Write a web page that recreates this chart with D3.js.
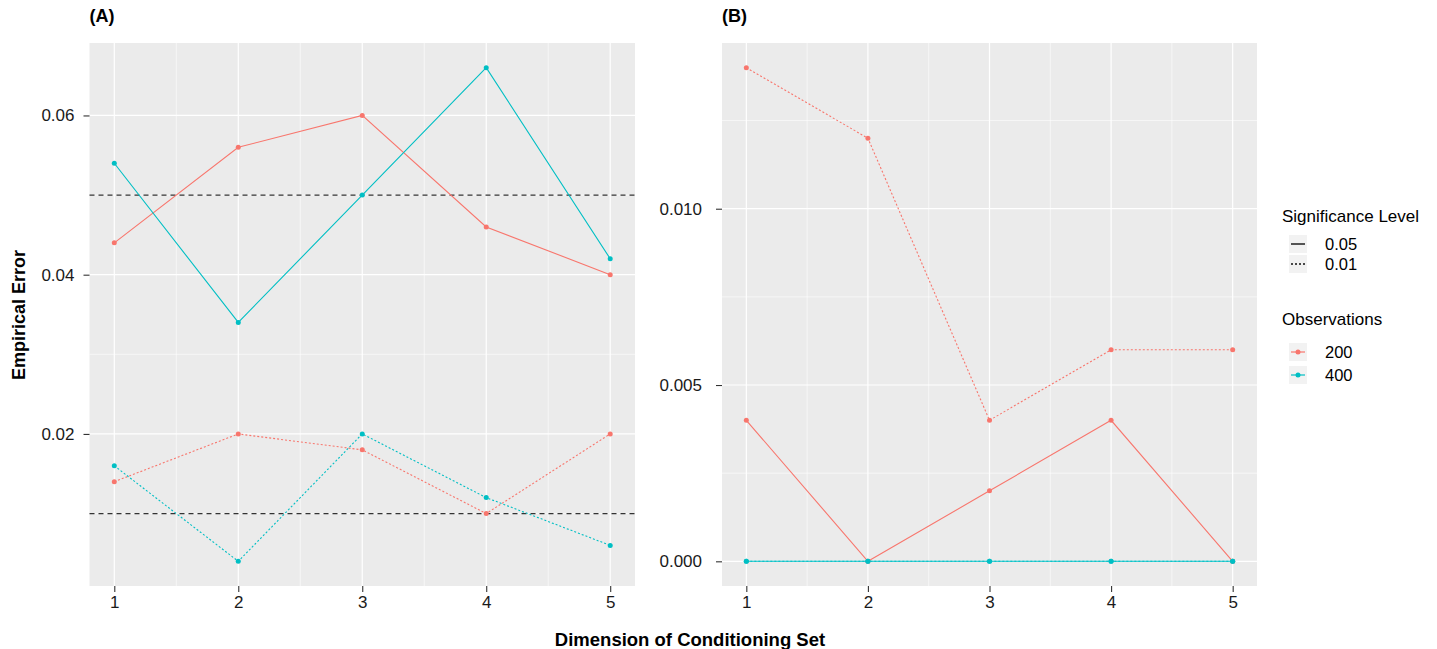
<!DOCTYPE html>
<html>
<head>
	<meta charset="utf-8">
	<title>Empirical Error</title>
	<script src="https://d3js.org/d3.v7.min.js"></script>
	<style>
		body { margin: 0; background: #fff; }
		text { font-family: "Liberation Sans", Arial, sans-serif; }
	</style>
</head>
<body>
	<script type="text/javascript">

		// data
		var dims = [1, 2, 3, 4, 5];
		var levels = ["0.05", "0.01"];
		var observations = ["200", "400"];

		var aRed05 = [0.044, 0.056, 0.060, 0.046, 0.040];
		var aTeal05 = [0.054, 0.034, 0.050, 0.066, 0.042];
		var aRed01 = [0.014, 0.020, 0.018, 0.010, 0.020];
		var aTeal01 = [0.016, 0.004, 0.020, 0.012, 0.006];
		var aRefLines = [0.05, 0.01];

		var bRed05 = [0.004, 0.000, 0.002, 0.004, 0.000];
		var bTeal05 = [0, 0, 0, 0, 0];
		var bRed01 = [0.014, 0.012, 0.004, 0.006, 0.006];
		var bTeal01 = [0, 0, 0, 0, 0];

		var aTicks = [0.02, 0.04, 0.06];
		var aMinor = [0.01, 0.03, 0.05];
		var bTicks = [0.000, 0.005, 0.010];
		var bMinor = [0.0025, 0.0075, 0.0125];

		var colors = { "200": "#F8766D", "400": "#00BFC4" };
		var dashes = { "0.05": null, "0.01": "2,2" };

		var width = 1437, height = 649;
		var top0 = 43, bot0 = 586;

		var svg = d3.select("body").append("svg")
			.attr("width", width)
			.attr("height", height);

		function panel(opts) {
			var x = d3.scaleLinear().domain([0.8, 5.2]).range([opts.x0, opts.x1]);
			var y = d3.scaleLinear().domain(opts.ydom).range([bot0, top0]);
			var g = svg.append("g");

			g.append("rect")
				.attr("x", opts.x0).attr("y", top0)
				.attr("width", opts.x1 - opts.x0).attr("height", bot0 - top0)
				.attr("fill", "#EBEBEB");

			// minor grid
			g.selectAll(".ymin").data(opts.minor).enter().append("line")
				.attr("x1", opts.x0).attr("x2", opts.x1)
				.attr("y1", function (d) { return y(d); }).attr("y2", function (d) { return y(d); })
				.attr("stroke", "#fff").attr("stroke-width", 0.6);
			g.selectAll(".xmin").data([1.5, 2.5, 3.5, 4.5]).enter().append("line")
				.attr("y1", top0).attr("y2", bot0)
				.attr("x1", function (d) { return x(d); }).attr("x2", function (d) { return x(d); })
				.attr("stroke", "#fff").attr("stroke-width", 0.6);
			// major grid
			g.selectAll(".ymaj").data(opts.ticks).enter().append("line")
				.attr("x1", opts.x0).attr("x2", opts.x1)
				.attr("y1", function (d) { return y(d); }).attr("y2", function (d) { return y(d); })
				.attr("stroke", "#fff").attr("stroke-width", 1.2);
			g.selectAll(".xmaj").data(dims).enter().append("line")
				.attr("y1", top0).attr("y2", bot0)
				.attr("x1", function (d) { return x(d); }).attr("x2", function (d) { return x(d); })
				.attr("stroke", "#fff").attr("stroke-width", 1.2);

			// reference lines
			g.selectAll(".ref").data(opts.refs).enter().append("line")
				.attr("x1", opts.x0).attr("x2", opts.x1)
				.attr("y1", function (d) { return y(d); }).attr("y2", function (d) { return y(d); })
				.attr("stroke", "#333").attr("stroke-width", 1.2)
				.attr("stroke-dasharray", "5,4");

			var line = d3.line()
				.x(function (d, i) { return x(dims[i]); })
				.y(function (d) { return y(d); });

			opts.series.forEach(function (s) {
				g.append("path")
					.datum(s.values)
					.attr("d", line)
					.attr("fill", "none")
					.attr("stroke", colors[s.obs])
					.attr("stroke-width", 1.1)
					.attr("stroke-dasharray", dashes[s.level]);
				g.selectAll(null).data(s.values).enter().append("circle")
					.attr("cx", function (d, i) { return x(dims[i]); })
					.attr("cy", function (d) { return y(d); })
					.attr("r", 2.5)
					.attr("fill", colors[s.obs]);
			});

			// axes
			var yAxis = d3.axisLeft(y).tickValues(opts.ticks).tickFormat(d3.format(opts.fmt))
				.tickSize(6).tickPadding(opts.ypad);
			var ga = svg.append("g").attr("transform", "translate(" + opts.x0 + ",0)").call(yAxis);
			var xAxis = d3.axisBottom(x).tickValues(dims).tickFormat(d3.format("d"))
				.tickSize(6).tickPadding(4);
			var gb = svg.append("g").attr("transform", "translate(0," + bot0 + ")").call(xAxis);
			[ga, gb].forEach(function (a) {
				a.select(".domain").remove();
				a.selectAll("line").attr("stroke", "#333").attr("stroke-width", 1.1);
				a.selectAll("text").attr("font-size", 17).attr("fill", "#1a1a1a")
					.style("font-family", "'Liberation Sans', Arial, sans-serif");
			});

			svg.append("text")
				.attr("x", opts.x0).attr("y", 22)
				.attr("font-size", 18).attr("font-weight", "bold")
				.text(opts.label);
		}

		panel({
			x0: 89.5, x1: 635, ydom: [0.0009, 0.0691], ypad: 9,
			ticks: aTicks, minor: aMinor, fmt: ".2f", refs: aRefLines, label: "(A)",
			series: [
				{ obs: "200", level: "0.05", values: aRed05 },
				{ obs: "400", level: "0.05", values: aTeal05 },
				{ obs: "200", level: "0.01", values: aRed01 },
				{ obs: "400", level: "0.01", values: aTeal01 }
			]
		});

		panel({
			x0: 722, x1: 1257, ydom: [-0.0007, 0.0147], ypad: 14,
			ticks: bTicks, minor: bMinor, fmt: ".3f", refs: [], label: "(B)",
			series: [
				{ obs: "200", level: "0.05", values: bRed05 },
				{ obs: "200", level: "0.01", values: bRed01 },
				{ obs: "400", level: "0.01", values: bTeal01 },
				{ obs: "400", level: "0.05", values: bTeal05 }
			]
		});

		// axis titles
		svg.append("text")
			.attr("transform", "translate(25,315) rotate(-90)")
			.attr("text-anchor", "middle")
			.attr("font-size", 18).attr("font-weight", "bold")
			.text("Empirical Error");
		svg.append("text")
			.attr("x", 690).attr("y", 646)
			.attr("text-anchor", "middle")
			.attr("font-size", 18.5).attr("font-weight", "bold")
			.text("Dimension of Conditioning Set");

		// legend
		var leg = svg.append("g").attr("transform", "translate(1282,0)");
		var sigY = [244, 264];
		var obsY = [352, 375];
		leg.append("text").attr("x", 0).attr("y", 222).attr("font-size", 17).text("Significance Level");
		levels.forEach(function (lv, i) {
			var cy = sigY[i];
			leg.append("rect").attr("x", 7).attr("y", cy - 9).attr("width", 18).attr("height", 18).attr("fill", "#F2F2F2");
			leg.append("line").attr("x1", 9).attr("x2", 23).attr("y1", cy).attr("y2", cy)
				.attr("stroke", "#111").attr("stroke-width", 1.4)
				.attr("stroke-dasharray", dashes[lv]);
			leg.append("text").attr("x", 43).attr("y", cy + 6).attr("font-size", 16.5).text(lv);
		});
		leg.append("text").attr("x", 0).attr("y", 325).attr("font-size", 17).text("Observations");
		observations.forEach(function (ob, i) {
			var cy = obsY[i];
			leg.append("rect").attr("x", 7).attr("y", cy - 9).attr("width", 18).attr("height", 18).attr("fill", "#F2F2F2");
			leg.append("line").attr("x1", 9).attr("x2", 23).attr("y1", cy).attr("y2", cy)
				.attr("stroke", colors[ob]).attr("stroke-width", 1.2);
			leg.append("circle").attr("cx", 16).attr("cy", cy).attr("r", 2.5).attr("fill", colors[ob]);
			leg.append("text").attr("x", 43).attr("y", cy + 6).attr("font-size", 16.5).text(ob);
		});

	</script>
</body>
</html>
